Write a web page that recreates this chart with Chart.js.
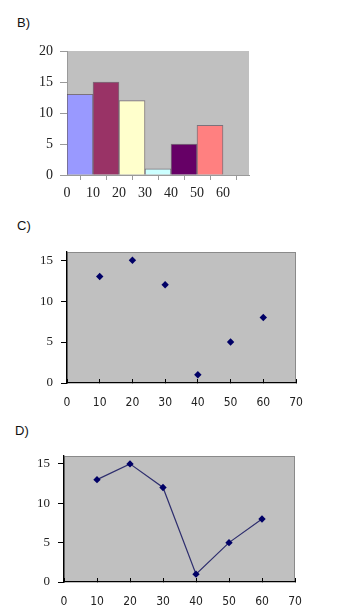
<!DOCTYPE html>
<html>
<head>
<meta charset="utf-8">
<script src="https://cdn.jsdelivr.net/npm/chart.js@4.4.0/dist/chart.umd.min.js"></script>
<style>
  body { margin: 0; background: #fff; width: 344px; height: 616px; overflow: hidden; position: relative; }
  .lbl { position: absolute; font-family: 'Liberation Sans', Arial, sans-serif; font-size: 13px; line-height: 1; color: #111; }
  .preload { position: absolute; left: -999px; top: 0; }
  canvas { position: absolute; }
</style>
</head>
<body>
<span class="preload" style="font-family:'Liberation Serif'">0123456789</span>
<span class="preload" style="font-family:'DejaVu Sans Condensed'">0123456789</span>
<div class="lbl" style="left:17px;top:16px">B)</div>
<div class="lbl" style="left:17px;top:219px">C)</div>
<div class="lbl" style="left:15px;top:424px">D)</div>
<canvas id="chartB" width="245" height="170" style="left:10px;top:40px"></canvas>
<canvas id="chartC" width="310" height="180" style="left:10px;top:240px"></canvas>
<canvas id="chartD" width="310" height="176" style="left:10px;top:440px"></canvas>
<script>
// data
const binEdges = [0, 10, 20, 30, 40, 50, 60];
const counts = [13, 15, 12, 1, 5, 8];
const binColors = ['#9999FF', '#993366', '#FFFFCC', '#CCFFFF', '#660066', '#FF8080'];
const xValues = [10, 20, 30, 40, 50, 60];
const yValues = [13, 15, 12, 1, 5, 8];

const serif = "'Liberation Serif', 'Times New Roman', serif";
const sansNarrow = "'DejaVu Sans Condensed', 'DejaVu Sans', sans-serif";

// grey plot area, optional frame
const plotBg = {
  id: 'plotBg',
  beforeDraw(chart, args, opts) {
    const a = chart.chartArea, ctx = chart.ctx;
    ctx.save();
    ctx.fillStyle = '#C0C0C0';
    ctx.fillRect(a.left, a.top, a.right - a.left, a.bottom - a.top);
    if (opts.frame) {
      ctx.strokeStyle = '#8a8a8a';
      ctx.lineWidth = 1;
      ctx.strokeRect(a.left + 0.5, a.top + 0.5, a.right - a.left - 1, a.bottom - a.top - 1);
    }
    ctx.restore();
  }
};

// fixed axis sizes so the plot areas land where the picture has them
function fixSize(w, h) {
  return function (scale) {
    if (w) scale.width = w;
    if (h) scale.height = h;
    scale.paddingLeft = 0;
    scale.paddingRight = 0;
    scale.paddingTop = 0;
    scale.paddingBottom = 0;
  };
}

const bins = counts.map((c, i) => ({ x: (binEdges[i] + binEdges[i + 1]) / 2, y: c }));

const charts = [];

charts.push(new Chart(document.getElementById('chartB'), {
  type: 'bar',
  data: {
    datasets: [{
      data: bins,
      backgroundColor: binColors,
      borderColor: 'rgba(40,20,40,0.45)',
      borderWidth: 1,
      barPercentage: 1,
      categoryPercentage: 1
    }]
  },
  options: {
    responsive: false,
    animation: false,
    devicePixelRatio: 1,
    layout: { padding: { top: 11, right: 6, left: 0, bottom: 0 } },
    plugins: { legend: { display: false }, tooltip: { enabled: false }, plotBg: { frame: false } },
    scales: {
      x: {
        type: 'linear', min: 0, max: 70, offset: false,
        afterFit: fixSize(0, 35),
        grid: { drawOnChartArea: false, tickLength: 5, color: '#9a9a9a' },
        border: { color: '#9a9a9a' },
        ticks: {
          stepSize: 10, padding: 5, color: '#222', maxRotation: 0,
          font: { family: serif, size: 14 },
          callback: v => (v === 70 ? '' : v)
        }
      },
      y: {
        min: 0, max: 20,
        afterFit: fixSize(57, 0),
        grid: { drawOnChartArea: false, tickLength: 7, color: '#9a9a9a' },
        border: { color: '#9a9a9a' },
        ticks: { stepSize: 5, padding: 7, color: '#222', font: { family: serif, size: 14 } }
      }
    }
  },
  plugins: [plotBg]
}));

function xyChart(id, withLine, yWidth, padTop, padRight, xHeight) {
  return new Chart(document.getElementById(id), {
    type: 'scatter',
    data: {
      datasets: [{
        data: xValues.map((x, i) => ({ x: x, y: yValues[i] })),
        showLine: withLine,
        borderColor: '#2e2e6e',
        borderWidth: 1.2,
        backgroundColor: '#000066',
        pointStyle: 'rectRot',
        pointRadius: 3.7,
        pointBorderWidth: 0
      }]
    },
    options: {
      responsive: false,
      animation: false,
      devicePixelRatio: 1,
      layout: { padding: { top: padTop, right: padRight, left: 0, bottom: 0 } },
      plugins: { legend: { display: false }, tooltip: { enabled: false }, plotBg: { frame: true } },
      scales: {
        x: {
          type: 'linear', min: 0, max: 70,
          afterFit: fixSize(0, xHeight),
          grid: { drawOnChartArea: false, tickLength: -4, color: '#000' },
          border: { color: '#000', width: 1.3 },
          ticks: { stepSize: 10, padding: 17, color: '#222', maxRotation: 0, font: { family: sansNarrow, size: 12 } }
        },
        y: {
          min: 0, max: 16,
          afterFit: fixSize(yWidth, 0),
          grid: { drawOnChartArea: false, tickLength: 6, color: '#000' },
          border: { color: '#000', width: 1.3 },
          ticks: { stepSize: 5, includeBounds: false, padding: 8, color: '#222', font: { family: serif, size: 13 } }
        }
      }
    },
    plugins: [plotBg]
  });
}

charts.push(xyChart('chartC', false, 57, 12, 24, 37));
charts.push(xyChart('chartD', true, 54, 16, 25, 34));

// redraw once the named fonts are surely available to the canvas
if (document.fonts) {
  document.fonts.ready.then(() => charts.forEach(c => c.update('none')));
}
</script>
</body>
</html>
